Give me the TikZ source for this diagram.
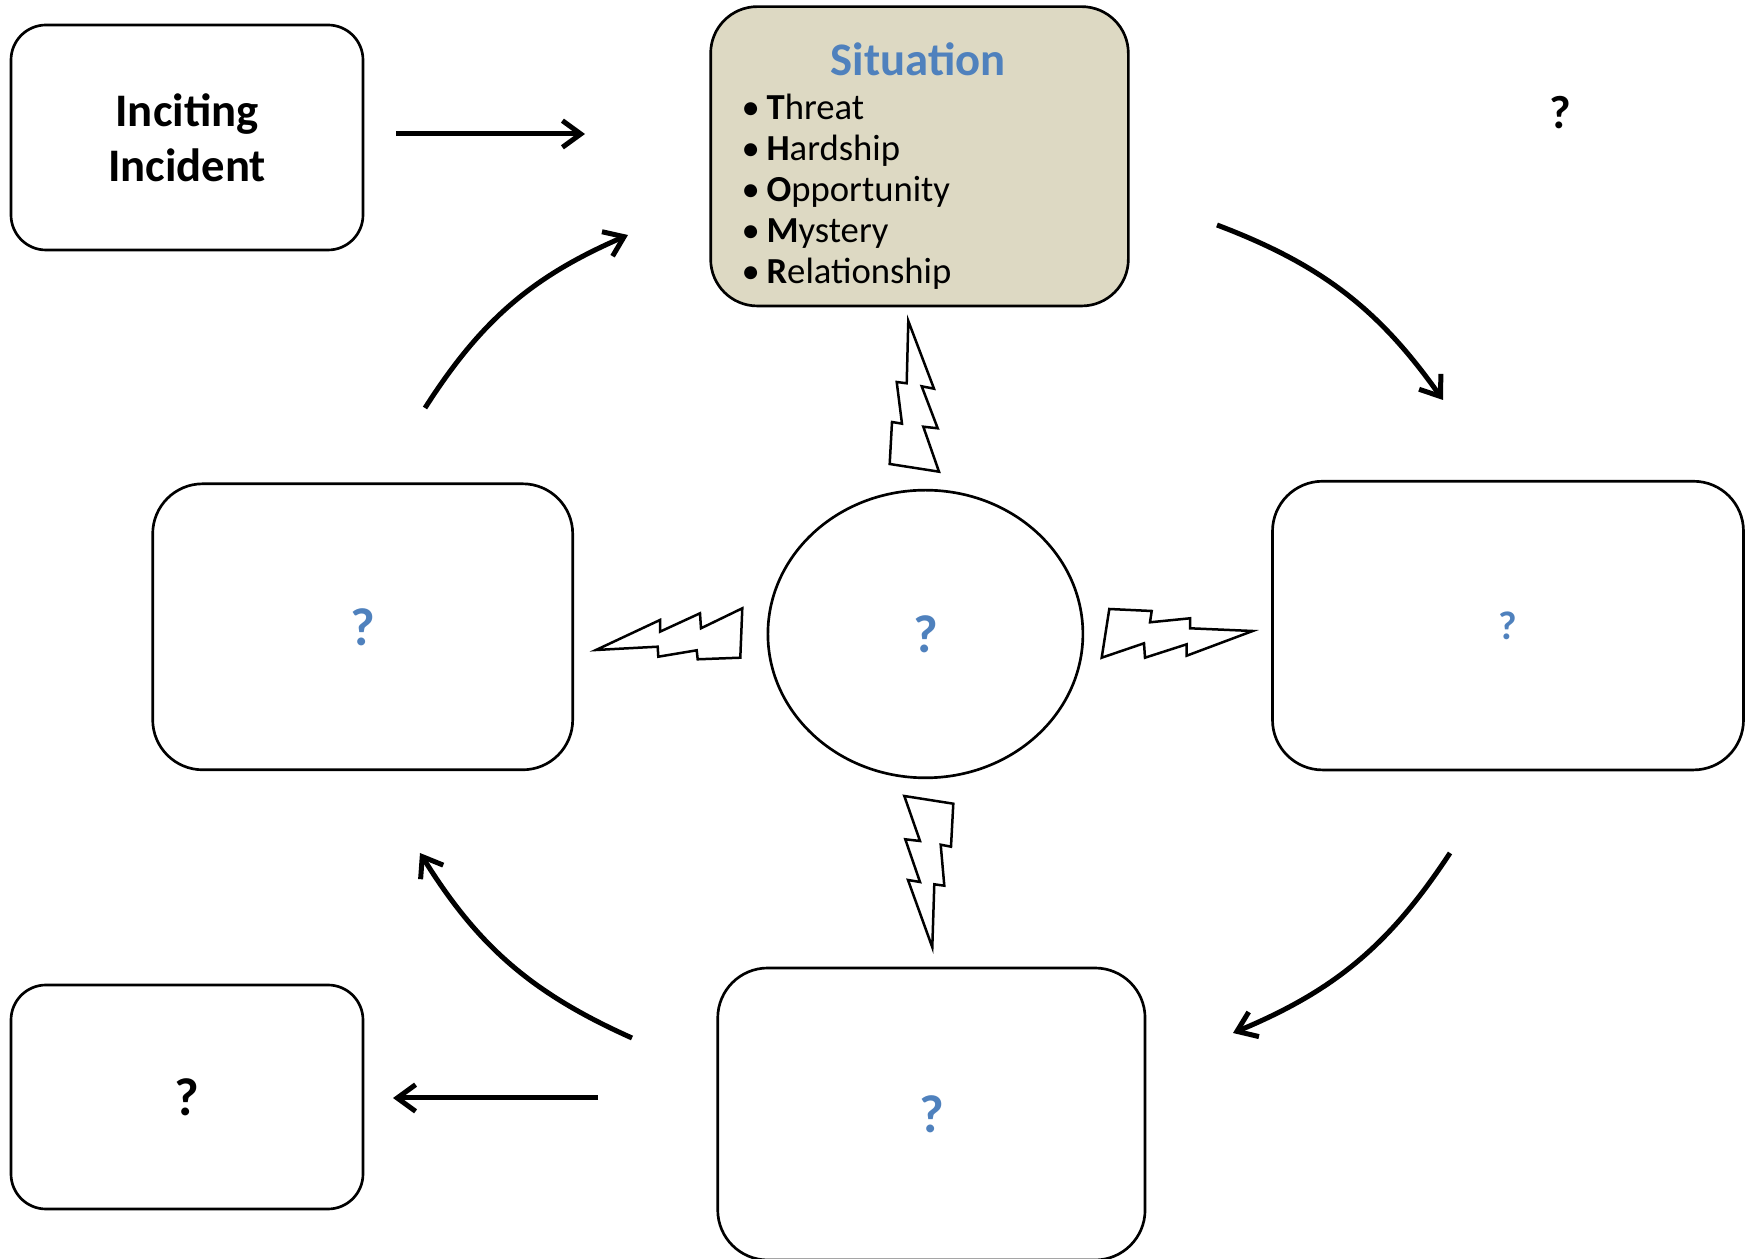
\documentclass[tikz,border=0pt]{standalone}
\usepackage{fontspec}
\setmainfont{Carlito}
\usetikzlibrary{arrows.meta,shapes.geometric}
\definecolor{qblue}{HTML}{4F81BD}
\definecolor{sitfill}{HTML}{DDD9C3}
\begin{document}
\begin{tikzpicture}[x=0.3pt,y=-0.3pt,
  box/.style={draw,line width=0.8pt,inner sep=0pt,font=\bfseries},
  flow/.style={line width=1.5pt,-{Straight Barb[length=5.5pt,width=8pt]}},
  bolt/.style={draw,line width=0.75pt,fill=white},
  qmark/.style={font=\bfseries\fontsize{16}{19}\selectfont,text=qblue}]
\useasboundingbox (0,0) rectangle (1747,1259);
% 箱
\node[box,rounded corners=10.5pt,minimum width=105.6pt,minimum height=67.5pt,align=center,font=\bfseries\fontsize{14}{16.5}\selectfont] (inc) at (187,137.5) {Inciting\\Incident};
\node[box,fill=sitfill,rounded corners=14pt,minimum width=125.3pt,minimum height=89.8pt] (sit) at (919.5,156.3) {};
\node[font=\bfseries\fontsize{14}{17}\selectfont,text=qblue,anchor=base] (sittitle) at (918,76) {Situation};
\foreach \ini/\rest [count=\i] in {T/hreat,H/ardship,O/pportunity,M/ystery,R/elationship}
  \node[font=\fontsize{11}{13}\selectfont,anchor=base west,inner sep=0pt] (item\i) at (741,{78.3+41*\i}) {•\hspace{2pt}\textbf{\ini}\rest};
\node[font=\bfseries\fontsize{14}{17}\selectfont] (topq) at (1560,112.5) {?};
\node[box,rounded corners=15pt,minimum width=126pt,minimum height=85.8pt,qmark] (lbox) at (362.7,626.8) {?};
\node[box,rounded corners=15pt,minimum width=141.3pt,minimum height=86.6pt,qmark,font=\bfseries\fontsize{12}{14}\selectfont] (rbox) at (1508,625.6) {?};
\node[box,ellipse,minimum width=94.5pt,minimum height=86.3pt,qmark] (core) at (925.4,634) {?};
\node[box,rounded corners=15pt,minimum width=128.2pt,minimum height=87.6pt,qmark] (bbox) at (931.4,1114) {?};
\node[box,rounded corners=10.5pt,minimum width=105.6pt,minimum height=67.2pt,font=\bfseries\fontsize{16}{19}\selectfont] (end) at (187,1097) {?};
% 矢印
\coordinate (i1) at (396,134);
\coordinate (i2) at (585,134);
\coordinate (tr1) at (1217,225);
\coordinate (tr2) at (1443,400);
\coordinate (br1) at (1450,853);
\coordinate (br2) at (1233,1033);
\coordinate (bl1) at (632,1038);
\coordinate (bl2) at (420,853);
\coordinate (tl1) at (425,408);
\coordinate (tl2) at (628,235);
\coordinate (e1) at (598,1098);
\coordinate (e2) at (393,1098);
\draw[flow] (i1) -- (i2);
\draw[flow] (tr1) to[bend left=17] (tr2);
\draw[flow] (br1) to[bend left=17] (br2);
\draw[flow] (bl1) to[bend left=17] (bl2);
\draw[flow] (tl1) to[bend left=17] (tl2);
\draw[flow] (e1) -- (e2);
% 稲妻
\draw[bolt] (908.3,321) -- (934,388.7) -- (921.7,386.3) -- (937.7,428.3) -- (923.3,426.7) -- (939,471.7) -- (889.7,464) -- (892,422) -- (902,423.7) -- (896.7,382) -- (906.7,383.3) -- cycle;
\draw[bolt] (904.3,796) -- (953.3,803.7) -- (951,846.7) -- (940.7,844.7) -- (944.3,885.7) -- (934.3,884.3) -- (932.3,947.3) -- (908,880) -- (920,882) -- (905.3,839.3) -- (920,841) -- cycle;
\draw[bolt] (596,650) -- (657.7,646.7) -- (658.3,656.7) -- (696.7,650.3) -- (697.7,659.3) -- (740.3,657.7) -- (742.3,608.3) -- (701,628.3) -- (700,613.3) -- (660,631.7) -- (660,620) -- cycle;
\draw[bolt] (1101.7,657.7) -- (1109.3,609) -- (1151.7,611) -- (1150,622.3) -- (1190,618.3) -- (1190,628.3) -- (1252.7,631) -- (1186.7,655.7) -- (1186.7,644.3) -- (1145,657.7) -- (1144,643.3) -- cycle;
\end{tikzpicture}
\end{document}
